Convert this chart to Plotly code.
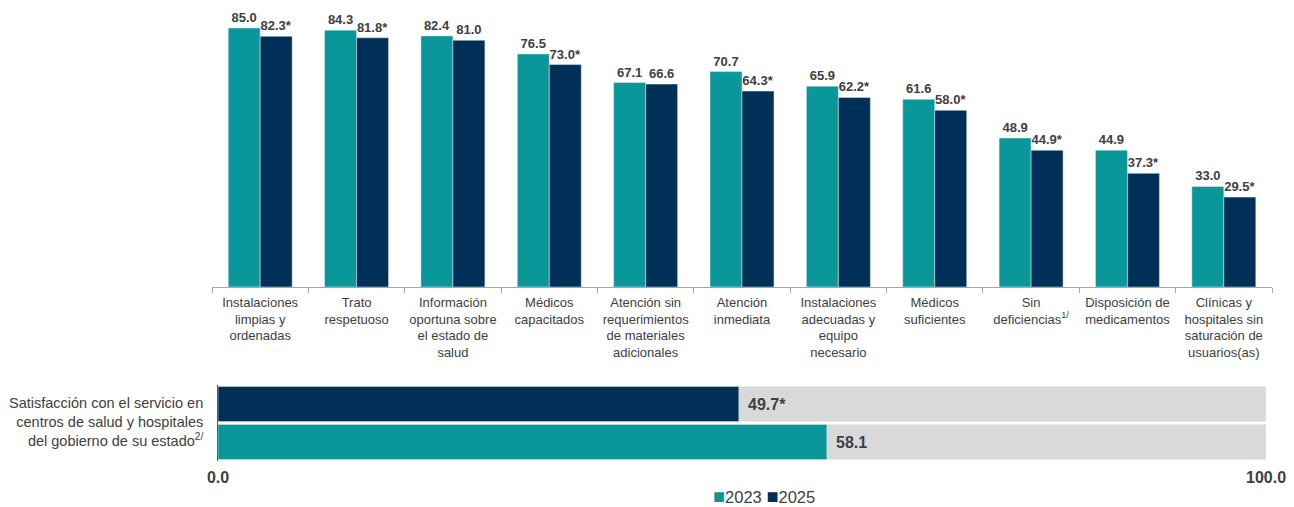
import plotly.graph_objects as go

# Survey attributes (top panel)
categories = [
    "Instalaciones<br>limpias y<br>ordenadas",
    "Trato<br>respetuoso",
    "Información<br>oportuna sobre<br>el estado de<br>salud",
    "Médicos<br>capacitados",
    "Atención sin<br>requerimientos<br>de materiales<br>adicionales",
    "Atención<br>inmediata",
    "Instalaciones<br>adecuadas y<br>equipo<br>necesario",
    "Médicos<br>suficientes",
    "Sin<br>deficiencias<sup>1/</sup>",
    "Disposición de<br>medicamentos",
    "Clínicas y<br>hospitales sin<br>saturación de<br>usuarios(as)",
]
values_2023 = [85.0, 84.3, 82.4, 76.5, 67.1, 70.7, 65.9, 61.6, 48.9, 44.9, 33.0]
values_2025 = [82.3, 81.8, 81.0, 73.0, 66.6, 64.3, 62.2, 58.0, 44.9, 37.3, 29.5]
signif_2025 = [True, True, False, True, False, True, True, True, True, True, True]

# Overall satisfaction (bottom panel)
overall_years = ["2023", "2025"]
overall_values = [58.1, 49.7]
overall_signif = [False, True]
overall_full = [100, 100]
overall_label = "Satisfacción con el servicio en<br>centros de salud y hospitales<br>del gobierno de su estado<sup>2/</sup>"
axis_ticks = [0, 100]
axis_ticktext = ["0.0", "100.0"]

TEAL = "#099799"
NAVY = "#003057"
GRAY = "#D9D9D9"
TXT = "#404040"
FONT = "Liberation Sans, Arial, sans-serif"

def fmt(v, s):
    return f"{v:.1f}" + ("*" if s else "")

fig = go.Figure()

bw = 0.332
fig.add_trace(go.Bar(
    x=categories, y=values_2023, name="2023", marker_color=TEAL,
    width=bw, offset=-bw,
    text=[fmt(v, False) for v in values_2023], textposition="outside",
    textfont=dict(size=13, color=TXT, family=FONT, weight="bold"),
    cliponaxis=False, xaxis="x", yaxis="y", showlegend=False,
))
fig.add_trace(go.Bar(
    x=categories, y=values_2025, name="2025", marker_color=NAVY,
    width=bw, offset=0,
    text=[fmt(v, s) for v, s in zip(values_2025, signif_2025)], textposition="outside",
    textfont=dict(size=13, color=TXT, family=FONT, weight="bold"),
    cliponaxis=False, xaxis="x", yaxis="y", showlegend=False,
))

# Bottom panel: grey 100% track with the yearly value overlaid
fig.add_trace(go.Bar(
    y=overall_years, x=overall_full, orientation="h", marker_color=GRAY,
    width=0.92, xaxis="x2", yaxis="y2", showlegend=False, hoverinfo="skip",
))
fig.add_trace(go.Bar(
    y=[overall_years[0]], x=[overall_values[0]], orientation="h", marker_color=TEAL,
    width=0.92, xaxis="x2", yaxis="y2", showlegend=False,
))
fig.add_trace(go.Bar(
    y=[overall_years[1]], x=[overall_values[1]], orientation="h", marker_color=NAVY,
    width=0.92, xaxis="x2", yaxis="y2", showlegend=False,
))

annotations = []
# value labels just past the end of each overall bar (y given as category index)
for idx, (v, s) in enumerate(zip(overall_values, overall_signif)):
    annotations.append(dict(
        x=v, y=idx, xref="x2", yref="y2", text=fmt(v, s), showarrow=False,
        xanchor="left", yanchor="middle", xshift=7,
        font=dict(size=16, color=TXT, family=FONT, weight="bold"),
    ))

annotations.append(dict(
    x=205 / 1294, y=1 - 422 / 507, xref="paper", yref="paper", text=overall_label,
    showarrow=False, xanchor="right", yanchor="middle", align="right",
    font=dict(size=14.5, color=TXT, family=FONT),
))

# compact year key under the bottom panel
annotations.append(dict(
    x=764 / 1294, y=1 - 496 / 507, xref="paper", yref="paper",
    text=(f'<span style="color:{TEAL}">■</span><span style="font-size:16.5px">2023 </span>'
          f'<span style="color:{NAVY}">■</span><span style="font-size:16.5px">2025</span>'),
    showarrow=False, xanchor="center", yanchor="middle",
    font=dict(size=20, color=TXT, family=FONT),
))

fig.update_layout(
    width=1294, height=507, autosize=False,
    margin=dict(l=0, r=0, t=0, b=0, autoexpand=False),
    paper_bgcolor="white", plot_bgcolor="white",
    barmode="overlay",
    font=dict(family=FONT, color=TXT),
    annotations=annotations,
    xaxis=dict(
        domain=[212 / 1294, 1272 / 1294], anchor="y",
        type="category", categoryorder="array", categoryarray=categories,
        showline=True, linecolor="#A6A6A6", linewidth=1,
        ticks="outside", tickson="boundaries", ticklen=5, tickcolor="#A6A6A6",
        tickangle=0, automargin=False, ticklabelstandoff=3,
        tickfont=dict(size=13, color=TXT, family=FONT),
        showgrid=False, zeroline=False,
    ),
    yaxis=dict(
        domain=[1 - 287 / 507, 1.0], anchor="x", range=[0, 94.2],
        visible=False, showgrid=False, zeroline=False, automargin=False,
    ),
    xaxis2=dict(
        domain=[218 / 1294, 1266 / 1294], anchor="y2", range=[0, 100],
        tickvals=axis_ticks, ticktext=axis_ticktext, ticks="", automargin=False,
        ticklabelstandoff=5,
        tickfont=dict(size=16, color=TXT, family=FONT, weight="bold"),
        showline=False, showgrid=False, zeroline=False,
    ),
    yaxis2=dict(
        domain=[1 - 461 / 507, 1 - 385 / 507], anchor="x2",
        type="category", categoryorder="array", categoryarray=overall_years,
        range=[-0.5, 1.5], automargin=False,
        showticklabels=False, showline=True, linecolor="#595959", linewidth=1,
        ticks="", showgrid=False, zeroline=False,
    ),
)

fig.write_html("out.html")
